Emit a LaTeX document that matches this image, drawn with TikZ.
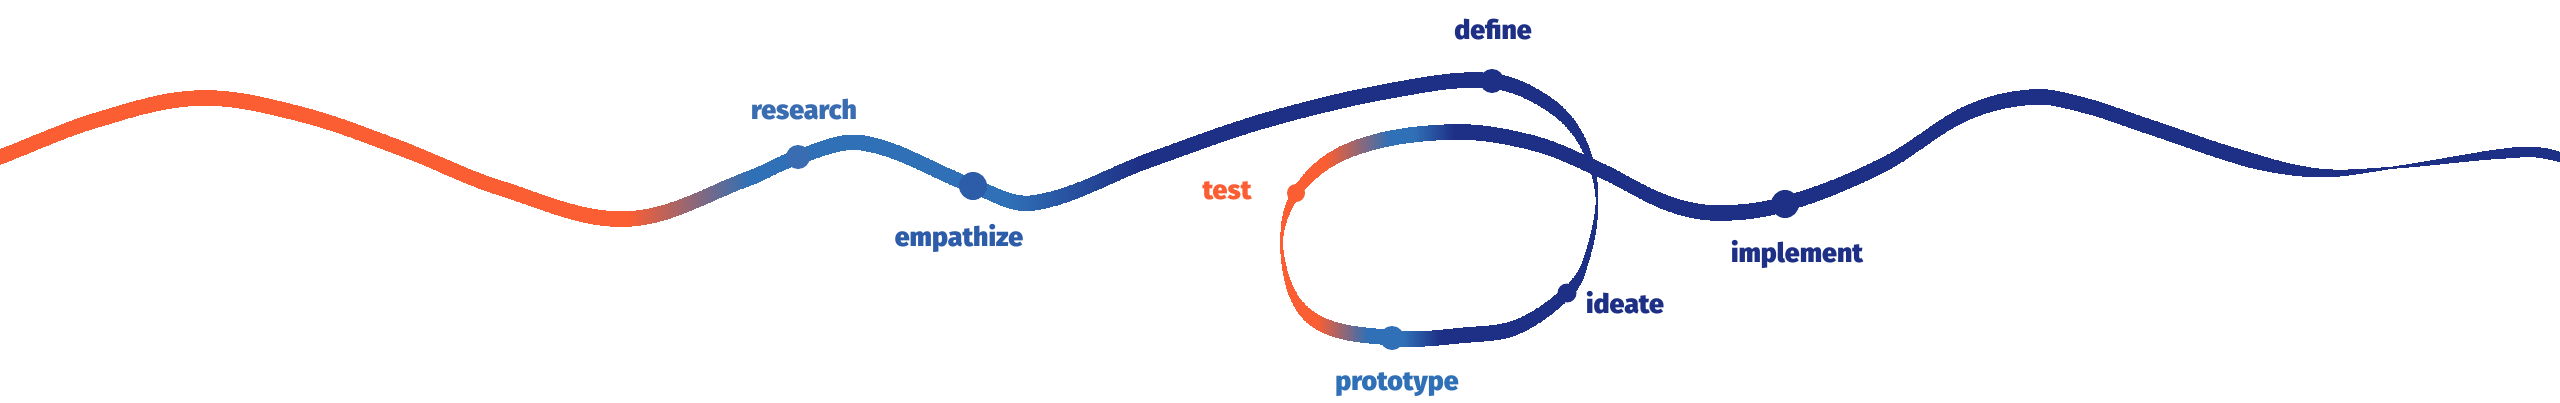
\documentclass[tikz,border=0pt]{standalone}
\usepackage{fontspec}
\IfFontExistsTF{Fira Sans Black}{\newfontfamily\lblfont{Fira Sans Black}}{%
  \IfFontExistsTF{Fira Sans Heavy}{\newfontfamily\lblfont{Fira Sans Heavy}}{%
    \IfFontExistsTF{Lato Black}{\newfontfamily\lblfont{Lato Black}}{%
      \newfontfamily\lblfontbase{Fira Sans}\newcommand\lblfont{\lblfontbase\bfseries}}}}
\definecolor{cOr}{RGB}{250,94,50}
\definecolor{cBl}{RGB}{48,112,182}
\definecolor{cNv}{RGB}{30,48,133}
\definecolor{cBlA}{RGB}{58,108,178}
\definecolor{cBlB}{RGB}{45,92,168}
\newdimen\pxu \pxu=0.01cm
% path points of the brush stroke (pixels, y downwards)
\def\PX{{-60,0,100,200,300,400,500,627,750,798,863,973,1033,1150,1267,1400,1492,1550,1583,1597,1584,1567,1517,1467,1392,1310,1282,1296,1350,1450,1533,1600,1667,1717,1785,1883,1967,2033,2083,2150,2250,2320,2390,2523,2560,2620}}
\def\PY{{180,157,119,98,114,148,188,219,178,157,143,186,203,160,120,89,81,105,143,200,267,293,327,335,338,317,253,193,150,132,143,170,203,213,204,165,113,97,105,127,160,173,168,152,157,180}}
\def\NSEG{43}
% ramp: #1 := clamp((#2-#3)/(#4-#3),0,1)
\newcommand\rampv[4]{%
  \pgfmathsetmacro\rk{1/((#4)-(#3))}%
  \pgfmathsetmacro#1{min(1,max(0,((#2)-(#3))*\rk))}}
% one stamp of the (vertical) brush nib at (\mx,\my)
\newcommand\stampnib{%
  \def\aA{630}\def\bA{750}\def\aB{1010}\def\bB{1140}%
  \ifdim\mx pt>1276pt\relax
    \ifdim\mx pt<1600pt\relax
      \ifdim\my pt>124pt\relax
        \ifdim\my pt>265pt\relax
          \def\aA{1317}\def\bA{1367}\def\aB{1403}\def\bB{1440}%
        \else
          \def\aA{1327}\def\bA{1390}\def\aB{1415}\def\bB{1455}%
        \fi
      \fi
    \fi
  \fi
  \rampv\sA{\mx}{\aA}{\bA}%
  \rampv\sB{\mx}{\aB}{\bB}%
  \pgfmathsetmacro\cR{(250-202*\sA-18*\sB)*0.0039216}%
  \pgfmathsetmacro\cG{(94+18*\sA-64*\sB)*0.0039216}%
  \pgfmathsetmacro\cBb{(50+132*\sA-49*\sB)*0.0039216}%
  \definecolor{cur}{rgb}{\cR,\cG,\cBb}%
  \rampv\hA{\mx}{2250}{2390}%
  \rampv\hB{\mx}{2390}{2510}%
  \pgfmathsetmacro\hh{0.5*(15.5-13.5*\hA+8.5*\hB)}%
  \fill[cur] ({\mx-1},{\my-\hh}) rectangle ({\mx+1},{\my+\hh});%
}
\tikzset{
  dot/.style={circle, inner sep=0pt, draw=none},
  lbl/.style={font=\lblfont\fontsize{7.6}{9}\selectfont, inner sep=0pt, anchor=base}
}
\begin{document}
\begin{tikzpicture}[x=0.01cm, y=-0.01cm]
\useasboundingbox (0,0) rectangle (2560,403);
\clip (0,0) rectangle (2560,403);
% stage points on the path
\coordinate (research) at (798,157);
\coordinate (empathize) at (973,186);
\coordinate (define) at (1492,81);
\coordinate (ideate) at (1567,293);
\coordinate (prototype) at (1392,338);
\coordinate (test) at (1296,193);
\coordinate (implement) at (1785,204);
% the brush stroke: spline through the points, stamped with a vertical nib
\foreach \i in {1,...,\NSEG}{%
  \pgfmathsetmacro\xA{\PX[\i-1]}\pgfmathsetmacro\yA{\PY[\i-1]}%
  \pgfmathsetmacro\xB{\PX[\i]}\pgfmathsetmacro\yB{\PY[\i]}%
  \pgfmathsetmacro\xC{\PX[\i+1]}\pgfmathsetmacro\yC{\PY[\i+1]}%
  \pgfmathsetmacro\xD{\PX[\i+2]}\pgfmathsetmacro\yD{\PY[\i+2]}%
  \pgfmathsetmacro\dxc{(\xC)-(\xB)}\pgfmathsetmacro\dyc{(\yC)-(\yB)}%
  \pgfmathsetmacro\LL{veclen(\dxc,\dyc)}%
  \pgfmathsetmacro\LA{veclen((\xC)-(\xA),(\yC)-(\yA))}%
  \pgfmathsetmacro\LD{veclen((\xD)-(\xB),(\yD)-(\yB))}%
  \pgfmathsetmacro\dxa{((\xC)-(\xA))/\LA*0.34*\LL}%
  \pgfmathsetmacro\dya{((\yC)-(\yA))/\LA*0.34*\LL}%
  \pgfmathsetmacro\dxb{(\dxc)-((\xD)-(\xB))/\LD*0.34*\LL}%
  \pgfmathsetmacro\dyb{(\dyc)-((\yD)-(\yB))/\LD*0.34*\LL}%
  \pgfmathtruncatemacro\nn{ceil(\LL*1.15)+1}%
  \foreach \j in {0,...,\nn}{%
    \pgfmathsetmacro\tq{\j/\nn}%
    \pgfmathsetmacro\uq{1-\tq}%
    \pgfmathsetmacro\mx{\xB+3*\uq*\uq*\tq*(\dxa)+3*\uq*\tq*\tq*(\dxb)+\tq*\tq*\tq*(\dxc)}%
    \pgfmathsetmacro\my{\yB+3*\uq*\uq*\tq*(\dya)+3*\uq*\tq*\tq*(\dyb)+\tq*\tq*\tq*(\dyc)}%
    \stampnib
  }%
}
% dots
\node[dot, fill=cBlA, minimum size=24\pxu] (researchDot) at (research) {};
\node[dot, fill=cBlB, minimum size=28\pxu] (empathizeDot) at (empathize) {};
\node[dot, fill=cNv, minimum size=24\pxu] (defineDot) at (define) {};
\node[dot, fill=cNv, minimum size=19\pxu] (ideateDot) at (ideate) {};
\node[dot, fill=cBl, minimum size=24\pxu] (prototypeDot) at (prototype) {};
\node[dot, fill=cOr, minimum size=18\pxu] (testDot) at (test) {};
\node[dot, fill=cNv, minimum size=28\pxu] (implementDot) at (implement) {};
% labels
\node[lbl, text=cBlA] (researchLbl) at (804,119) {research};
\node[lbl, text=cBlB] (empathizeLbl) at (959,246) {empathize};
\node[lbl, text=cNv] (defineLbl) at (1493,39) {define};
\node[lbl, text=cOr] (testLbl) at (1227,199) {test};
\node[lbl, text=cBl] (prototypeLbl) at (1397,390) {prototype};
\node[lbl, text=cNv] (ideateLbl) at (1625,313) {ideate};
\node[lbl, text=cNv] (implementLbl) at (1797,262) {implement};
\end{tikzpicture}
\end{document}
